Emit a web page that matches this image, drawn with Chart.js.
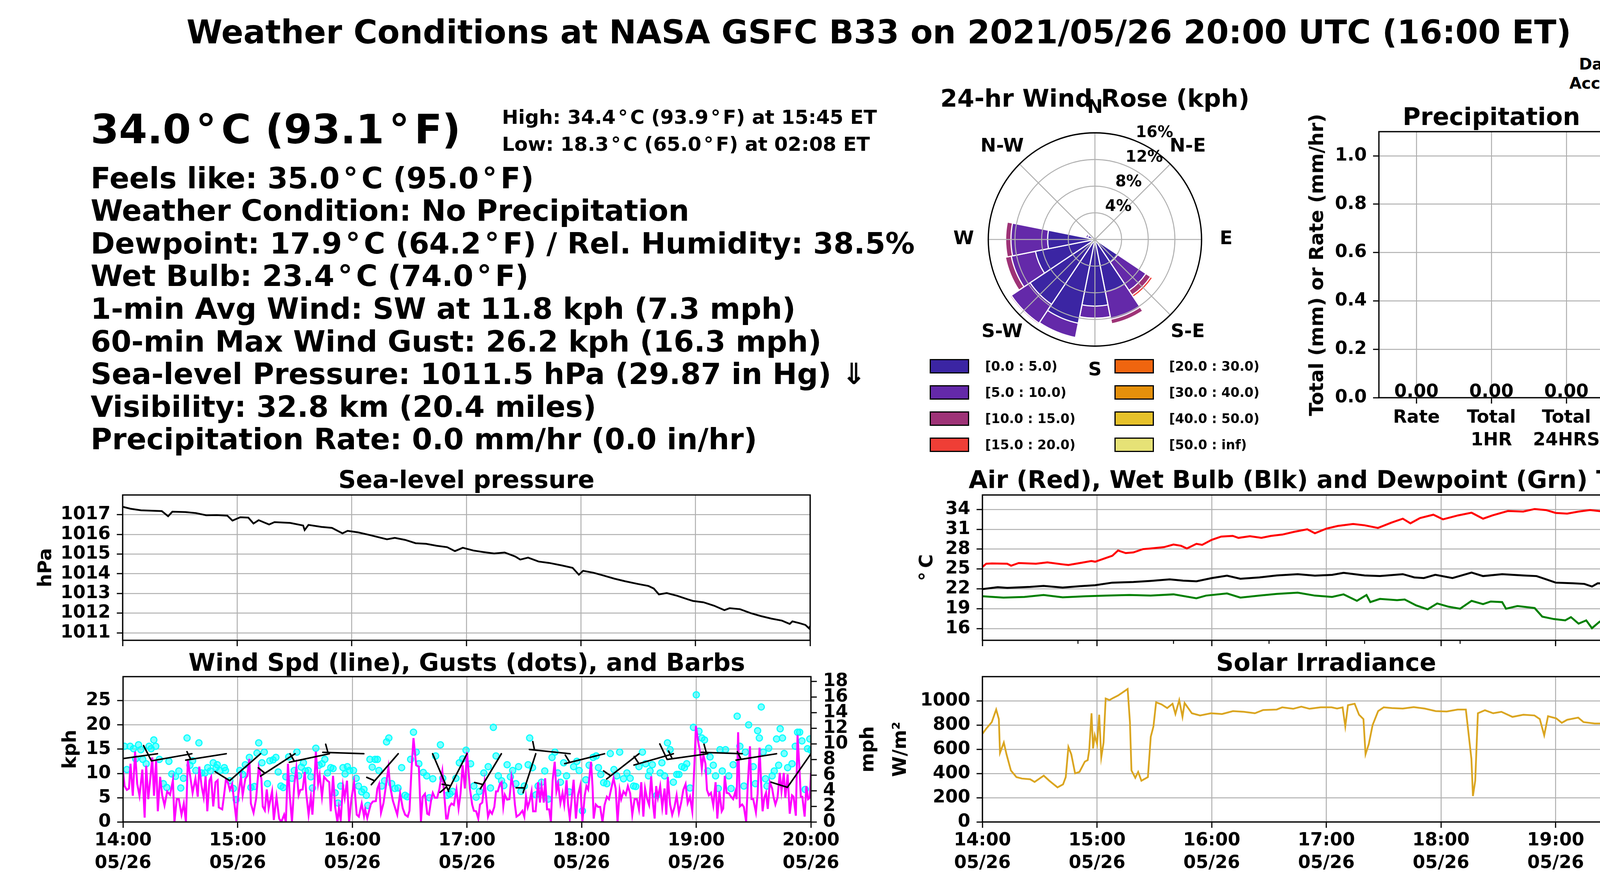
<!DOCTYPE html>
<html lang="en">
<head>
<meta charset="UTF-8">
<title>Weather Conditions at NASA GSFC B33</title>
<script src="https://cdn.jsdelivr.net/npm/chart.js"></script>
<style>
  html, body { margin: 0; padding: 0; }
  body { width: 4500px; height: 2250px; position: relative; overflow: hidden; background: #fff;
         font-family: "DejaVu Sans", sans-serif; font-weight: bold; color: #000; }
  canvas { position: absolute; }
  .t { position: absolute; white-space: nowrap; line-height: 1; z-index: 2; }
  .t .dg { margin: 0 0.12em; }
  .v { position: absolute; white-space: nowrap; line-height: 1; z-index: 2; transform: translate(-50%, -50%) rotate(-90deg); }
  .sw { position: absolute; box-sizing: border-box; border: 3px solid #000; width: 101px; height: 37px; }
</style>
</head>
<body>
<script>
// ---------- data ----------
const hourTicks = [0, 60, 120, 180, 240, 300, 360];   // minutes after 14:00 UTC
const hourLabels = ['14:00', '15:00', '16:00', '17:00', '18:00', '19:00', '20:00'];
const dayLabel = '05/26';
const tempMinorTicks = [50, 100, 150, 200, 250, 300, 350];

// sea-level pressure (hPa)
const pressMin = [0,4.1,9.6,15.1,20.5,23.8,26.0,32.9,38.4,43.8, 49.3,54.8,57.5,61.6,65.8,68.5,71.2,76.7,79.5,87.7,
  94.5,95.3,97.3,104.1,109.6,115.1,117.8,123.3,128.8,138.4, 142.5,147.9,153.4,158.9,164.4,169.9,174.0,178.1,183.6,189.0,
  194.5,200.0,205.5,208.2,212.3,217.8,223.3,230.1,235.6,238.9, 241.1,246.6,252.1,257.5,263.0,269.9,275.3,278.1,280.8,284.9,
  290.4,295.9,298.6,304.1,309.6,315.1,317.8,323.3,328.8,334.2, 339.7,345.2,349.3,350.7,354.8,357.5,359.5,360];
const pressHpa = [1017.40,1017.30,1017.22,1017.20,1017.18,1016.92,1017.15,1017.13,1017.08,1016.97,
  1016.98,1016.95,1016.70,1016.87,1016.85,1016.55,1016.72,1016.50,1016.62,1016.58,
  1016.45,1016.22,1016.48,1016.38,1016.33,1016.05,1016.18,1016.10,1015.98,1015.75,
  1015.82,1015.72,1015.55,1015.52,1015.42,1015.35,1015.15,1015.32,1015.18,1015.10,
  1015.03,1015.08,1014.88,1014.72,1014.82,1014.62,1014.55,1014.42,1014.30,1013.95,
  1014.15,1014.05,1013.90,1013.75,1013.62,1013.48,1013.38,1013.25,1012.95,1013.02,
  1012.88,1012.70,1012.62,1012.55,1012.38,1012.15,1012.25,1012.20,1012.00,1011.85,
  1011.72,1011.62,1011.45,1011.58,1011.48,1011.40,1011.22,1011.35];
const pressTicks = [1011, 1012, 1013, 1014, 1015, 1016, 1017];

// temperatures (deg C)
const airMin = [0,2,5,13,15,19,28,34,42,45,51,57,59,65,68,71,75,79,84,88,95,100,104,107,112,115,120,125,131,134,
  140,146,151,157,163,170,174,180,186,194,200,207,214,220,224,229,236,241,249,256,262,267,275,283,289,295,300,306,312,318,
  325,332,338,345,349,353,360];
const airC = [25.3,25.8,25.84,25.8,25.5,25.9,25.8,26.0,25.7,25.6,25.9,26.2,26.1,26.7,27.0,27.8,27.4,27.5,28.0,28.1,
  28.3,28.7,28.5,28.1,28.8,28.65,29.4,29.9,30.0,29.7,29.95,29.7,30.0,30.2,30.6,31.0,30.4,31.1,31.5,31.8,
  31.6,31.2,32.0,32.6,31.9,32.7,33.2,32.5,33.1,33.5,32.6,33.1,33.76,33.67,34.06,33.9,33.47,33.37,33.67,33.9,
  33.67,34.16,33.9,34.35,34.1,34.35,33.86];
const wetMin = [0,8,13,25,32,42,51,59,68,79,88,98,105,112,120,128,135,145,154,165,174,183,189,200,208,220,226,231,237,246,
  256,262,272,283,290,295,300,309,315,319,322,332,340,347,353,360];
const wetC = [21.96,22.25,22.15,22.3,22.45,22.2,22.4,22.55,22.94,23.04,23.2,23.44,23.24,23.14,23.63,23.99,23.53,23.73,24.03,24.22,
  23.99,24.12,24.42,24.03,23.93,24.22,23.73,23.63,24.12,23.63,24.46,23.93,24.22,24.03,23.93,23.44,22.94,22.84,22.75,22.35,
  22.84,22.75,22.65,22.55,23.24,23.40];
const dewMin = [0,11,22,32,42,54,65,77,88,100,112,117,128,135,145,154,165,174,183,189,196,201,203,208,217,221,227,233,238,244,
  250,256,262,266,272,274,280,289,293,299,305,308,312,316,319,323,330,336,342,346,352,360];
const dewC = [20.88,20.68,20.78,21.07,20.72,20.88,20.98,21.07,20.98,21.17,20.58,20.98,21.31,20.68,20.98,21.23,21.43,20.98,20.78,21.17,
  20.19,21.07,20.0,20.48,20.29,20.39,19.5,18.91,19.8,19.3,19.0,20.19,19.7,20.09,20.0,19.0,19.4,19.1,17.8,17.44,
  17.24,17.73,16.75,17.24,16.06,17.04,16.35,16.65,16.85,16.16,17.54,18.03];
const tempCTicks = [16, 19, 22, 25, 28, 31, 34];
const tempFTicks = [60, 65, 70, 75, 80, 85, 90, 95];

// wind speed (kph), 1-min
const windMin = [0,0.8,2.0,3.1,3.9,5.1,6.3,7.4,8.6,10.1, 11.3,12.1,13.2,14.4,15.3,16.2,17.3,18.2,19.4,20.5,
  21.7,23.1,24.6,26.1,26.9,28.1,29.2,30.6,31.8,32.9, 33.9,35.3,36.4,37.9,39.1,39.9,41.1,42.2,43.2,44.1,
  45.2,46.1,47.2,48.4,49.5,50.1,51.9,52.7,53.8,54.8, 55.9,57.1,58.2,59.2,60.3,61.7,62.6,64.0,65.0,66.1,
  66.9,68.3,69.6,71.0,72.4,73.1,74.2,75.2,76.2,78.0, 78.9,80.3,81.7,82.8,84.3,85.2,86.3,87.2,88.4,89.6,
  90.7,91.9,92.8,94.0,95.1,95.9,97.1,98.3,99.1,100.0, 100.9,102.1,102.9,104.1,105.2,106.7,107.9,108.7,109.9,111.0,
  112.2,113.0,113.9,115.1,116.0,117.2,118.3,119.5,120.9,122.3, 123.4,124.9,126.1,126.7,127.8,129.6,130.7,132.3,133.1,134.0,
  135.0,136.3,137.7,138.9,139.8,141.2,142.3,143.5,145.0,146.4, 147.6,149.0,149.9,151.0,152.0,153.4,154.8,155.9,156.8,158.0,
  159.2,160.1,161.3,162.1,163.2,164.4,165.5,167.1,167.9,169.1, 169.8,170.8,171.9,173.1,174.5,175.6,176.6,177.7,178.9,180.0,
  181.0,181.5,182.7,183.6,184.8,185.9,186.8,188.0,189.2,190.0, 191.0,192.0,193.1,194.3,195.2,196.1,197.3,198.1,199.0,199.8,
  201.0,202.2,203.3,204.3,205.1,205.9,207.4,209.0,210.0,210.9, 211.8,212.8,213.8,214.6,215.9,217.2,218.2,219.0,220.2,220.9,
  221.9,223.0,223.9,224.8,225.9,226.8,227.7,228.9,230.0,230.9, 232.1,232.9,233.8,234.9,235.8,237.0,238.1,239.3,240.4,241.6,
  242.5,243.4,244.9,245.7,246.3,247.4,248.6,249.7,250.9,252.0, 253.2,254.3,255.5,256.7,257.8,258.8,259.9,260.7,261.9,263.1,
  264.2,265.4,266.5,267.7,268.9,270.0,271.2,272.3,273.2,274.3, 275.3,276.4,277.4,278.2,279.0,279.9,281.1,282.2,283.4,284.3,
  285.1,286.3,287.4,288.6,289.7,290.9,292.1,293.2,294.4,295.5, 296.7,297.9,299.0,299.8,301.0,301.9,302.9,303.7,304.8,305.6,
  306.6,307.7,308.9,310.1,311.0,312.1,313.3,314.1,314.9,315.9, 317.0,318.2,319.3,320.5,321.1,321.9,322.8,324.0,324.9,326.1,
  326.9,328.1,328.9,329.8,331.2,332.1,333.1,333.9,334.7,335.6, 336.5,337.4,338.5,339.7,340.5,341.4,342.5,343.7,344.6,345.8,
  346.6,347.8,348.9,350.1,350.9,352.1,353.0,353.9,354.7,355.5, 356.7,357.6,358.5,359.4,360];
const windKph = [10.5,7.4,6.6,6.9,12.0,5.4,14.5,7.9,5.4,10.8, 0.9,11.6,4.7,9.5,13.3,5.4,12.8,2.2,9.3,5.5,
  3.4,6.3,5.6,8.6,0,4.7,4.7,1.5,3.8,0, 12.8,9.0,6.0,9.0,5.2,11.4,7.4,5.1,9.4,2.2,
  8.5,9.3,3.2,8.2,8.6,3.0,2.6,5.0,8.6,8.2, 6.6,7.8,4.0,0.7,5.5,9.4,5.5,8.9,9.5,13.0,
  3.8,1.9,4.7,11.2,8.9,3.2,2.4,6.7,2.8,6.3, 0.4,5.2,0.7,0,1.5,0,12.0,5.8,0,7.7,
  11.2,5.5,6.6,6.7,10.3,5.8,1.5,5.2,1.5,6.9, 14.5,7.9,9.7,5.2,9.3,8.6,8.2,2.2,9.5,3.1,
  0,2.9,0.4,7.4,5.0,8.5,0,4.7,8.2,1.5, 1.1,3.8,1.2,2.6,0.8,3.6,4.2,4.3,6.9,7.8,
  1.9,3.9,7.8,11.2,7.3,4.4,3.0,1.5,5.9,2.8, 1.5,1.1,2.3,11.2,17.3,11.7,11.4,0.1,5.2,5.8,
  1.7,1.5,4.7,6.0,5.0,5.0,6.7,10.5,6.6,0.7, 0.7,3.1,3.8,3.5,6.7,2.8,5.8,11.7,6.9,14.4,
  9.5,6.9,3.6,2.3,2.2,0.7,3.6,4.0,8.2,5.2, 1.1,2.3,1.7,3.1,6.3,6.3,7.9,8.2,3.2,5.6,
  4.6,4.7,9.3,7.1,3.5,1.1,1.5,2.3,1.1,5.2, 3.0,4.3,6.3,2.2,2.2,8.2,4.0,7.4,4.0,9.0,
  2.6,2.6,0,8.5,12.4,6.3,7.9,3.9,6.0,3.6, 8.6,3.6,0.7,5.2,8.7,0.7,5.5,7.5,0,5.4,
  7.4,6.7,12.4,7.4,0.7,3.6,3.1,3.1,0,3.5, 5.2,4.7,6.9,9.0,6.9,0,6.5,4.7,6.3,5.6,
  7.4,5.9,1.5,4.7,4.7,2.6,8.2,1.1,6.9,4.7, 3.5,9.4,3.6,0.7,7.4,5.0,7.4,3.0,6.9,1.5,
  9.3,3.6,1.5,3.1,5.5,1.9,4.0,6.6,7.8,3.9, 5.2,2.2,11.7,19.8,16.5,14.7,11.0,13.8,12.0,6.6,
  5.5,6.0,3.4,8.2,0.7,6.3,2.2,2.8,9.5,6.0, 5.9,5.2,4.7,6.3,4.7,18.5,3.2,3.6,3.1,0,
  7.4,15.6,4.7,4.7,2.0,5.8,15.3,8.2,2.2,5.0, 6.0,2.7,8.2,6.9,5.0,3.6,5.0,10.1,6.3,10.1,
  5.0,9.8,1.7,5.5,5.2,1.3,17.9,11.7,5.2,5.2, 1.1,7.4,4.7,5.0,10.1];

// wind gusts (kph)
const gustMin = [0.8,2.0,3.7,5.5,6.6,8.1,9.3,10.3,12.1,13.6, 14.7,16.1,17.1,19.0,21.1,22.9,24.0,25.5,27.5,29.2,
  30.2,31.6,33.5,35.0,36.4,38.1,39.7,41.1,42.9,44.3, 45.7,47.2,48.7,49.3,50.7,53.0,53.6,55.9,57.7,59.2,
  61.1,62.6,64.0,66.1,66.9,68.7,70.1,71.0,72.7,73.9, 75.6,76.8,78.5,80.0,81.2,82.6,83.8,85.2,86.7,88.4,
  89.6,91.0,91.9,93.3,94.4,95.4,96.9,98.3,99.1,100.9, 102.6,104.1,105.6,107.0,108.7,109.9,111.0,112.5,113.9,115.1,
  116.2,117.4,118.6,120.6,122.0,123.2,124.9,126.1,127.3,128.1, 129.2,130.4,131.9,133.1,133.9,135.4,136.9,137.9,139.1,140.6,
  142.3,143.9,145.8,147.6,148.7,150.5,152.0,153.4,154.8,157.1, 158.9,160.3,162.1,163.6,166.1,167.3,169.6,171.0,172.5,174.2,
  176.0,177.7,179.5,
  181.9,183.6,184.8,186.5,188.8,191.1,192.3,193.8,195.2,196.4, 198.1,199.3,201.0,202.7,203.9,205.6,207.0,208.2,210.0,212.0,
  212.8,214.3,216.1,217.2,219.0,220.7,222.5,224.5,226.0,227.5, 228.9,230.6,232.1,233.5,235.8,237.5,238.7,240.4,242.2,243.9,
  246.0,247.6,248.8,250.0,251.5,253.2,255.0,256.9,258.4,259.9, 261.9,263.7,265.4,267.2,268.3,270.0,271.8,273.5,275.0,275.8,
  277.0,279.3,281.1,282.0,283.4,284.9,286.3,288.0,289.8,290.9, 292.4,293.8,295.0,296.7,298.5,300.0,301.4,302.9,304.3,306.0,
  307.2,308.9,310.1,311.5,312.4,313.6,315.3,317.0,318.2,319.3, 321.4,322.8,324.9,325.7,327.4,329.8,330.9,332.1,333.0,334.0,
  335.0,336.2,337.0,337.9,339.7,340.8,342.0,343.1,343.9,345.1, 346.0,347.8,350.1,351.8,353.0,354.1,355.3,357.0,358.2,359.4,
  360];
const gustKph = [15.6,10.8,15.6,15.1,13.0,15.9,14.9,12.9,12.0,15.6, 15.1,16.9,15.6,12.9,7.9,7.1,12.5,9.9,9.4,10.5,
  7.0,9.0,17.3,11.7,12.6,10.6,16.3,10.1,10.1,11.2, 10.5,12.2,11.2,11.8,10.6,11.2,10.6,8.5,6.9,4.6,
  10.6,9.8,11.8,13.3,7.1,7.3,14.2,16.3,12.2,14.4, 7.9,12.6,12.8,13.3,10.3,7.4,7.1,9.3,13.4,9.0,
  10.6,14.4,9.5,11.3,12.2,10.5,10.6,9.3,7.0,15.2, 11.7,12.0,12.9,10.1,11.2,11.0,6.0,3.9,7.4,11.2,
  9.9,11.4,10.6,10.6,9.0,7.4,6.2,6.7,5.5,3.4, 12.9,11.3,12.9,12.9,10.6,7.4,8.5,16.5,17.3,7.9,
  6.9,7.0,11.2,5.5,5.2,12.9,18.5,14.4,12.0,10.2, 9.5,5.0,8.9,13.6,15.9,9.0,5.5,5.8,6.3,9.0,
  12.2,13.0,14.8,
  12.0,7.4,5.1,6.3,10.1,11.4,7.0,19.5,13.6,9.5, 8.5,7.5,11.8,9.3,10.6,7.9,11.4,6.3,7.4,11.8,
  17.3,11.2,5.6,7.4,8.2,10.5,4.7,13.3,14.4,10.1, 8.2,12.2,9.5,6.2,11.4,12.5,10.6,2.3,8.7,11.7,
  13.3,13.6,11.2,9.8,8.1,7.9,14.1,10.8,9.5,14.4, 8.9,10.1,9.0,7.4,7.3,11.4,14.4,12.0,9.5,10.5,
  11.8,5.5,10.1,12.2,9.5,16.3,14.9,8.2,9.8,9.8, 11.4,11.2,12.0,7.0,19.5,26.2,18.7,17.3,16.9,10.5,
  13.4,11.7,9.5,6.9,14.9,10.5,14.9,9.5,6.9,11.8, 21.8,15.6,7.4,14.4,20.0,11.4,7.9,18.8,17.3,23.7,
  14.4,8.9,7.4,15.2,9.5,10.5,17.1,11.7,19.2,17.3, 14.1,11.2,12.0,15.6,18.5,18.5,16.7,6.7,15.1,17.1,
  14.8];

// wind barbs every 18 min: speed in barb units, direction wind comes from (deg)
const barbMin = [18, 36, 54, 72, 90, 108, 126, 144, 162, 180, 198, 216, 234, 252, 270, 288, 306, 324, 342, 360];
const barbSpd = [5, 10, 5, 10, 5, 5, 5, 5, 5, 5, 5, 5, 5, 5, 5, 5, 15, 5, 5, 10];
const barbDir = [262, 260, 261, 229, 237, 258, 272, 221, 157, 207, 211, 198, 276, 256, 232, 254, 262, 272, 261, 215];
const windKphTicks = [0, 5, 10, 15, 20, 25];
const windMphTicks = [0, 2, 4, 6, 8, 10, 12, 14, 16, 18];

// solar irradiance (W/m2)
const solarMin = [0,2,4.9,7.2,8.6,9.2,11.2,12.6,14.9,17.8, 20.7,25,27.3,32.1,35,39.3,42.2,43.6,45,46.5,
  48.5,50.8,53.6,55.1,55.9,57.1,57.9,58.8,60,61.1, 62.2,63.4,64.5,66.5,68.6,70.9,73.7,76,77.2,78,
  80,81.5,83.2,86.6,88.1,89.5,90.9,93.8,96.7,99.5, 101,103,104.7,105.8,109.6,113.9,119.6,125.4,131.1,136.8,
  142.6,146.9,154,156.9,162.6,166.9,171.2,177,182.7,185.6, 188.5,189.9,191.3,194.8,197.1,199.4,200.5,202.2,204.2,207.1,
  210,214.3,220,225.7,231.5,237.2,243,248.7,253,255.9, 256.7,257.9,259.3,263,267.3,271.6,277.4,283.1,288.9,291.7,
  294,296,300.3,303.2,306,311.8,314.6,320.4,326.1,331.9, 337.6,344.8,353.4,354.8,356.3,357.7,360];
const solarWm2 = [729,772,826,930,851,572,657,560,426,371, 359,353,331,383,341,286,311,371,620,560,
  402,414,499,511,596,899,608,717,644,887, 535,657,1021,1008,1027,1045,1075,1100,826,426,
  365,414,341,371,705,790,990,972,942,978, 893,1008,869,984,899,881,899,893,917,911,
  899,926,930,948,936,954,936,948,948,938, 948,790,966,978,887,851,560,644,802,917,
  948,942,938,950,938,917,914,930,930,523, 214,341,899,924,899,911,869,887,881,851,
  717,875,857,820,845,863,826,814,814,772, 778,754,735,390,705,754,741];
const solarTicks = [0, 200, 400, 600, 800, 1000];

// precipitation
const precipCats = [['Rate'], ['Total', '1HR'], ['Total', '24HRS']];
const precipMm = [0, 0, 0];
const precipMmTicks = [0, 0.2, 0.4, 0.6, 0.8, 1.0];
const precipInTicks = [0, 0.01, 0.02, 0.03, 0.04];

// 24-hr wind rose, % of time per direction and speed bin
const roseDirs16 = ['N','NNE','NE','ENE','E','ESE','SE','SSE','S','SSW','SW','WSW','W','WNW','NW','NNW'];
const roseBin0 = [0,0,0,0,0,0,4.1,8.0,10.0,12.8,11.7,9.1,7.1,1.1,0,0];
const roseBin1 = [0,0,0,0,0,0,5.1,4.2,1.8,2.2,3.4,3.7,5.5,0.3,0,0];
const roseBin2 = [0,0,0,0,0,0,0.85,0.7,0,0.15,0.2,0.9,0.8,0,0,0];
const roseBin3 = [0,0,0,0,0,0,0.35,0,0,0,0,0,0,0,0,0];
const roseBin4 = [0,0,0,0,0,0,0,0,0,0,0,0,0,0,0,0];
const roseBin5 = [0,0,0,0,0,0,0,0,0,0,0,0,0,0,0,0];
const roseBin6 = [0,0,0,0,0,0,0,0,0,0,0,0,0,0,0,0];
const roseBin7 = [0,0,0,0,0,0,0,0,0,0,0,0,0,0,0,0];
const roseBinLabels = ['[0.0 : 5.0)', '[5.0 : 10.0)', '[10.0 : 15.0)', '[15.0 : 20.0)',
                       '[20.0 : 30.0)', '[30.0 : 40.0)', '[40.0 : 50.0)', '[50.0 : inf)'];
const roseRings = [4, 8, 12, 16];
const roseCompass = ['N', 'N-E', 'E', 'S-E', 'S', 'S-W', 'W', 'N-W'];

// current conditions text
const headline = 'Weather Conditions at NASA GSFC B33 on 2021/05/26 20:00 UTC (16:00 ET)';
const curTemp = '34.0°C (93.1°F)';
const hiLo = ['High: 34.4°C (93.9°F) at 15:45 ET', 'Low: 18.3°C (65.0°F) at 02:08 ET'];
const infoLines = [
  'Feels like: 35.0°C (95.0°F)',
  'Weather Condition: No Precipitation',
  'Dewpoint: 17.9°C (64.2°F) / Rel. Humidity: 38.5%',
  'Wet Bulb: 23.4°C (74.0°F)',
  '1-min Avg Wind: SW at 11.8 kph (7.3 mph)',
  '60-min Max Wind Gust: 26.2 kph (16.3 mph)',
  'Sea-level Pressure: 1011.5 hPa (29.87 in Hg) \u21d3',
  'Visibility: 32.8 km (20.4 miles)',
  'Precipitation Rate: 0.0 mm/hr (0.0 in/hr)'
];

// ---------- styling ----------
const GRID = '#b0b0b0';
const roseColors = ['#3b25a3', '#6429a9', '#9e3377', '#ef3e36', '#ef650f', '#e5900b', '#e6c12a', '#e6e276'];
const BARB_LEVEL = 14.06;   // kph level where barb staffs start
const KPH_PER_MPH = 1.609344;

Chart.defaults.font.family = 'DejaVu Sans';
Chart.defaults.font.weight = 'bold';
Chart.defaults.font.size = 46;
Chart.defaults.color = '#000';
Chart.defaults.animation = false;
Chart.defaults.responsive = false;
Chart.defaults.plugins.legend.display = false;
Chart.defaults.plugins.tooltip.enabled = false;
Chart.defaults.elements.point.radius = 0;

// ---------- helpers ----------
function put(txt, x, base, size, align) {
  const d = document.createElement('div');
  d.className = 't';
  d.innerHTML = txt.replace(/°/g, '<span class="dg">°</span>');
  d.style.fontSize = size + 'px';
  d.style.left = x + 'px';
  d.style.top = (base - 0.846 * size) + 'px';
  if (align === 'center') d.style.transform = 'translateX(-50%)';
  document.body.appendChild(d);
}
function vput(txt, cx, cy, size) {
  const d = document.createElement('div');
  d.className = 'v';
  d.textContent = txt;
  d.style.fontSize = size + 'px';
  d.style.left = cx + 'px';
  d.style.top = cy + 'px';
  document.body.appendChild(d);
}
function makeCanvas(left, top, w, h) {
  const c = document.createElement('canvas');
  c.width = w; c.height = h;
  c.style.left = left + 'px'; c.style.top = top + 'px';
  c.style.width = w + 'px'; c.style.height = h + 'px';
  document.body.appendChild(c);
  return c;
}
function pts(xs, ys) { return xs.map((x, i) => ({ x: x, y: ys[i] })); }

function gridOpts(onChart) {
  return { drawOnChartArea: onChart, color: GRID, lineWidth: 2.5, tickColor: '#000', tickWidth: 3, tickLength: 15 };
}
function yAxis(o) {
  return {
    type: 'linear', position: o.position || 'left', min: o.min, max: o.max, bounds: 'data',
    afterBuildTicks: s => { s.ticks = o.ticks.map(v => ({ value: v })); },
    afterFit: s => { s.width = o.width; s.paddingTop = 0; s.paddingBottom = 0; },
    grid: gridOpts(o.grid !== false),
    border: { display: false },
    ticks: { padding: 16, autoSkip: false, callback: o.fmt || (v => v) }
  };
}
function timeAxis(withLabels) {
  return {
    type: 'linear', min: 0, max: 360, bounds: 'data',
    afterBuildTicks: s => { s.ticks = hourTicks.map(v => ({ value: v })); },
    afterFit: s => { s.height = withLabels ? 146 : 30; s.paddingLeft = 0; s.paddingRight = 0; },
    grid: gridOpts(true),
    border: { display: false },
    ticks: {
      padding: 4, autoSkip: false, maxRotation: 0, minRotation: 0, font: { lineHeight: 1.26 },
      callback: (v, i) => withLabels ? [hourLabels[i], dayLabel] : ''
    }
  };
}
const framePlugin = {
  id: 'frame',
  afterDatasetsDraw(chart) {
    const a = chart.chartArea, c = chart.ctx;
    c.save();
    c.strokeStyle = '#000'; c.lineWidth = 3.3;
    c.strokeRect(a.left, a.top, a.right - a.left, a.bottom - a.top);
    c.restore();
  }
};

// ---------- sea-level pressure ----------
new Chart(makeCanvas(114, 1255, 2000, 414), {
  type: 'line',
  data: { datasets: [{ data: pts(pressMin, pressHpa), borderColor: '#000', borderWidth: 4.5 }] },
  options: {
    devicePixelRatio: 1,
    layout: { padding: { top: 12, right: 40, left: 0, bottom: 0 } },
    scales: { x: timeAxis(false), y: yAxis({ min: 1010.62, max: 1018.0, ticks: pressTicks, width: 200 }) }
  },
  plugins: [framePlugin]
});

// ---------- temperatures ----------
const minorTickPlugin = {
  id: 'minorTicks',
  afterDatasetsDraw(chart) {
    const xs = chart.scales.x, a = chart.chartArea, c = chart.ctx;
    c.save(); c.strokeStyle = '#000'; c.lineWidth = 2.5;
    tempMinorTicks.forEach(m => {
      const x = xs.getPixelForValue(m);
      c.beginPath(); c.moveTo(x, a.bottom); c.lineTo(x, a.bottom + 9); c.stroke();
    });
    c.restore();
  }
};
const tCmin = 14.23, tCmax = 36.18;
new Chart(makeCanvas(2345, 1255, 2111, 414), {
  type: 'line',
  data: { datasets: [
    { data: pts(airMin, airC), borderColor: '#ff0000', borderWidth: 5 },
    { data: pts(wetMin, wetC), borderColor: '#000000', borderWidth: 5 },
    { data: pts(dewMin, dewC), borderColor: '#008000', borderWidth: 5 }
  ] },
  options: {
    devicePixelRatio: 1,
    layout: { padding: { top: 12, right: 0, left: 0, bottom: 0 } },
    scales: {
      x: timeAxis(false),
      y: yAxis({ min: tCmin, max: tCmax, ticks: tempCTicks, width: 170 }),
      yF: yAxis({ position: 'right', min: tCmin * 1.8 + 32, max: tCmax * 1.8 + 32, ticks: tempFTicks, width: 180, grid: false })
    }
  },
  plugins: [framePlugin, minorTickPlugin]
});

// ---------- wind ----------
const barbPlugin = {
  id: 'barbs',
  afterDatasetsDraw(chart) {
    const xs = chart.scales.x, ys = chart.scales.y, a = chart.chartArea, c = chart.ctx;
    const L = 105;
    c.save();
    c.beginPath(); c.rect(a.left, a.top, a.right - a.left, a.bottom - a.top); c.clip();
    c.strokeStyle = '#000'; c.lineWidth = 4; c.lineCap = 'round';
    barbMin.forEach((m, i) => {
      const bx = xs.getPixelForValue(m), by = ys.getPixelForValue(BARB_LEVEL);
      const b = barbDir[i] * Math.PI / 180;
      const dx = Math.sin(b), dy = -Math.cos(b);
      const px = -dy, py = dx;
      const tx = bx + L * dx, ty = by + L * dy;
      c.beginPath(); c.moveTo(bx, by); c.lineTo(tx, ty);
      const full = Math.floor(barbSpd[i] / 10), half = (barbSpd[i] % 10) >= 5;
      let s = (full === 0 && half) ? 0.125 * L : 0;
      for (let k = 0; k < full; k++) {
        const ox = tx - s * dx, oy = ty - s * dy;
        c.moveTo(ox, oy); c.lineTo(ox + 0.4 * L * px + 0.125 * L * dx, oy + 0.4 * L * py + 0.125 * L * dy);
        s += 0.125 * L;
      }
      if (half) {
        const ox = tx - s * dx, oy = ty - s * dy;
        c.moveTo(ox, oy); c.lineTo(ox + 0.2 * L * px + 0.0625 * L * dx, oy + 0.2 * L * py + 0.0625 * L * dy);
      }
      c.stroke();
    });
    c.restore();
  }
};
const wMax = 29.95;
new Chart(makeCanvas(115, 1720, 2161, 530), {
  type: 'line',
  data: { datasets: [
    { data: pts(windMin, windKph), borderColor: '#ff00ff', borderWidth: 5 },
    { data: pts(gustMin, gustKph), showLine: false, pointRadius: 8, pointBorderWidth: 3,
      pointBackgroundColor: 'rgba(0,255,255,0.5)', pointBorderColor: 'rgba(0,255,255,0.95)' }
  ] },
  options: {
    devicePixelRatio: 1,
    layout: { padding: { top: 12, right: 0, left: 0, bottom: 0 } },
    scales: {
      x: timeAxis(true),
      y: yAxis({ min: 0, max: wMax, ticks: windKphTicks, width: 200 }),
      y2: yAxis({ position: 'right', min: 0, max: wMax / KPH_PER_MPH, ticks: windMphTicks, width: 200, grid: false })
    }
  },
  plugins: [barbPlugin, framePlugin]
});

// ---------- solar ----------
new Chart(makeCanvas(2315, 1720, 2051, 530), {
  type: 'line',
  data: { datasets: [{ data: pts(solarMin, solarWm2), borderColor: '#daa520', borderWidth: 4.5 }] },
  options: {
    devicePixelRatio: 1,
    layout: { padding: { top: 12, right: 90, left: 0, bottom: 0 } },
    scales: { x: timeAxis(true), y: yAxis({ min: 0, max: 1202, ticks: solarTicks, width: 200 }) }
  },
  plugins: [framePlugin]
});

// ---------- precipitation ----------
const precipLabelPlugin = {
  id: 'precipLabels',
  afterDatasetsDraw(chart) {
    const c = chart.ctx, meta = chart.getDatasetMeta(0);
    c.save(); c.fillStyle = '#000'; c.font = 'bold 46px "DejaVu Sans"';
    c.textAlign = 'center'; c.textBaseline = 'alphabetic';
    meta.data.forEach((bar, i) => c.fillText(precipMm[i].toFixed(2), bar.x, bar.y - 2));
    c.restore();
  }
};
new Chart(makeCanvas(3380, 325, 886, 843), {
  type: 'bar',
  data: { labels: precipCats, datasets: [{ data: precipMm, backgroundColor: '#1f77b4' }] },
  options: {
    devicePixelRatio: 1,
    layout: { padding: { top: 12, right: 0, left: 0, bottom: 0 } },
    scales: {
      x: {
        type: 'category', offset: true,
        afterFit: s => { s.height = 150; s.paddingLeft = 0; s.paddingRight = 0; },
        grid: Object.assign(gridOpts(true), { offset: false }),
        border: { display: false },
        ticks: { padding: 8, autoSkip: false, maxRotation: 0, minRotation: 0, font: { lineHeight: 1.26 } }
      },
      y: yAxis({ min: 0, max: 1.1, ticks: precipMmTicks, width: 150, fmt: v => v.toFixed(1) }),
      y2: yAxis({ position: 'right', min: 0, max: 1.1 / 25.4, ticks: precipInTicks, width: 160, grid: false, fmt: v => v.toFixed(2) })
    }
  },
  plugins: [precipLabelPlugin, framePlugin]
});

// ---------- wind rose ----------
const roseBins = [roseBin0, roseBin1, roseBin2, roseBin3, roseBin4, roseBin5, roseBin6, roseBin7];
const roseCum = [];
roseBins.forEach((bin, k) => roseCum.push(bin.map((v, i) => v + (k ? roseCum[k - 1][i] : 0))));
const roseGridPlugin = {
  id: 'roseGrid',
  afterDatasetsDraw(chart) {
    const s = chart.scales.r, c = chart.ctx;
    const cx = s.xCenter, cy = s.yCenter, R = s.drawingArea;
    c.save();
    c.strokeStyle = GRID; c.lineWidth = 2.5;
    roseRings.forEach(v => { c.beginPath(); c.arc(cx, cy, s.getDistanceFromCenterForValue(v), 0, 2 * Math.PI); c.stroke(); });
    roseCompass.forEach((lab, k) => {
      const a = k * Math.PI / 4;
      c.beginPath(); c.moveTo(cx, cy); c.lineTo(cx + R * Math.sin(a), cy - R * Math.cos(a)); c.stroke();
    });
    c.strokeStyle = '#000'; c.lineWidth = 3.3;
    c.beginPath(); c.arc(cx, cy, R, 0, 2 * Math.PI); c.stroke();
    c.fillStyle = '#000';
    c.font = 'bold 48px "DejaVu Sans"'; c.textAlign = 'center'; c.textBaseline = 'middle';
    roseCompass.forEach((lab, k) => {
      const a = k * Math.PI / 4;
      c.fillText(lab, cx + (R + 63) * Math.sin(a), cy - (R + 63) * Math.cos(a));
    });
    c.font = 'bold 40px "DejaVu Sans"'; c.textAlign = 'left'; c.textBaseline = 'bottom';
    const la = 22.5 * Math.PI / 180;
    roseRings.forEach(v => {
      const r = s.getDistanceFromCenterForValue(v);
      c.fillText(v + '%', cx + r * Math.sin(la), cy - r * Math.cos(la));
    });
    c.restore();
  }
};
new Chart(makeCanvas(2403, 213, 800, 800), {
  type: 'polarArea',
  data: {
    labels: roseDirs16,
    datasets: roseCum.map((d, k) => ({ data: d, backgroundColor: roseColors[k], borderColor: '#ffffff', borderWidth: 3 }))
  },
  options: {
    devicePixelRatio: 1,
    layout: { padding: 127 },
    scales: { r: { min: 0, max: 16, startAngle: -11.25,
      ticks: { display: false }, grid: { display: false }, angleLines: { display: false }, pointLabels: { display: false } } }
  },
  plugins: [roseGridPlugin]
});

// rose legend
roseBinLabels.forEach((lab, k) => {
  const col = k < 4 ? 0 : 1, row = k % 4;
  const cy = 937 + row * 67;
  const sw = document.createElement('div');
  sw.className = 'sw';
  sw.style.left = (col ? 2853 : 2380) + 'px';
  sw.style.top = (cy - 18.5) + 'px';
  sw.style.background = roseColors[k];
  document.body.appendChild(sw);
  put(lab, col ? 2993 : 2522, cy + 12, 33.3);
});

// ---------- QR code block (decorative) ----------
(function () {
  const size = 270, n = 41, u = size / n;
  const cv = makeCanvas(4185, 34, size, size), c = cv.getContext('2d');
  c.fillStyle = '#fff'; c.fillRect(0, 0, size, size);
  c.fillStyle = '#3424ff';
  const last = n - 7;
  const finders = [[0, 0], [0, last], [last, 0]];
  for (let r = 0; r < n; r++) {
    for (let q = 0; q < n; q++) {
      let dark = null;
      finders.forEach(([fr, fq]) => {
        const dr = r - fr, dq = q - fq;
        if (dr >= -1 && dr <= 7 && dq >= -1 && dq <= 7) {
          const m = Math.max(Math.abs(dr - 3), Math.abs(dq - 3));
          dark = (m === 3 || m <= 1);
        }
      });
      if (dark === null) {
        const m = Math.max(Math.abs(r - 34), Math.abs(q - 34));
        if (m <= 2) dark = (m !== 1);
        else if (r === 6) dark = (q % 2 === 0);
        else if (q === 6) dark = (r % 2 === 0);
        else { const h = Math.sin(r * 91.37 + q * 47.71) * 43758.5453; dark = (h - Math.floor(h)) > 0.5; }
      }
      if (dark) c.fillRect(q * u, r * u, u - 0.6, u - 0.6);
    }
  }
})();

// ---------- text ----------
put(headline, 2250, 111, 83.3, 'center');
put(curTemp, 232, 367, 104.2);
put(hiLo[0], 1285, 317.5, 50);
put(hiLo[1], 1285, 386, 50);
infoLines.forEach((ln, i) => put(ln, 232, 482 + 83.6 * i, 75));
put('Data', 4096, 178, 40.5, 'center');
put('Access', 4095, 227, 40.5, 'center');

put('24-hr Wind Rose (kph)', 2803, 274, 62.5, 'center');
put('Precipitation', 3818, 321, 62.5, 'center');
put('Sea-level pressure', 1194, 1250, 62.5, 'center');
put('Wind Spd (line), Gusts (dots), and Barbs', 1195, 1718, 62.5, 'center');
put('Air (Red), Wet Bulb (Blk) and Dewpoint (Grn) Temps', 3395, 1250, 62.5, 'center');
put('Solar Irradiance', 3395, 1718, 62.5, 'center');

vput('hPa', 114, 1453, 48);
vput('kph', 177, 1918, 48);
vput('mph', 2219, 1918, 48);
vput('°\u2009C', 2370, 1453, 48);
vput('°\u2009F', 4408, 1453, 48);
vput('W/m²', 2302, 1918, 48);
vput('Total (mm) or Rate (mm/hr)', 3370, 678, 50);
vput('Total (in) or Rate (in/hr)', 4298, 678, 50);
</script>
</body>
</html>
